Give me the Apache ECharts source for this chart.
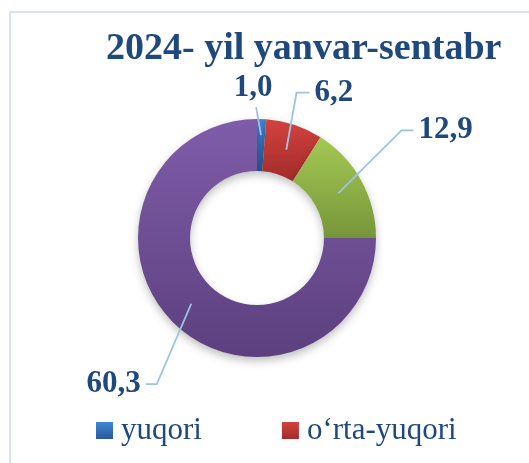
<!DOCTYPE html>
<html>
<head>
<meta charset="utf-8">
<script src="https://cdn.jsdelivr.net/npm/echarts@6/dist/echarts.min.js"></script>
<style>
  html, body { margin: 0; padding: 0; background: #fff; }
  #chart_view { width: 529px; height: 463px; }
</style>
</head>
<body>
<div id="chart_view"></div>
<script>
// data
var categories = ['yuqori', 'o\u2018rta-yuqori', 'o\u2018rta-quyi', 'quyi'];
var values = [1.0, 6.2, 12.9, 60.3];
var legendItems = ['yuqori', 'o\u2018rta-yuqori'];

var titleText = '2024- yil yanvar-sentabr';
var darkBlue = '#1F497D';

// slice colours, top -> bottom of each gradient
var colorsTop = ['#3F86D6', '#D2423F', '#A4C853', '#7F5CA9'];
var colorsBottom = ['#2A5A98', '#A22C2A', '#76963A', '#5C407E'];

// label line tuning per slice
var lineLen = [12, 32, 46, 51];
var lineLen2 = [0, 13, 12, 11];
var lineInset = [16, 26, 26, 26];
var labelShift = [[-6, 0], [-8, -2], [0, -28], [20, 26]];

function grad(i) {
    return new echarts.graphic.LinearGradient(0, 0, 0, 1, [
        { offset: 0, color: colorsTop[i] },
        { offset: 1, color: colorsBottom[i] }
    ]);
}

var ringData = categories.map(function (name, i) {
    return { name: name, value: values[i], itemStyle: { color: grad(i) } };
});

// same slices again, invisible, only to carry labels above the ring
var labelData = categories.map(function (name, i) {
    return {
        name: name,
        value: values[i],
        labelLine: { length: lineLen[i], length2: lineLen2[i] }
    };
});

var myChart = echarts.init(document.getElementById('chart_view'));

var pieBase = {
    type: 'pie',
    center: [257, 238],
    radius: [67, 119],
    startAngle: 90,
    clockwise: true,
    avoidLabelOverlap: false
};

var option = {
    animation: false,
    graphic: [{
        type: 'rect',
        shape: { x: 10, y: 12, width: 600, height: 600 },
        style: { fill: 'none', stroke: '#D7E3F3', lineWidth: 2 },
        z: -1
    }],
    title: {
        text: titleText,
        left: 106,
        top: 30,
        padding: 0,
        textStyle: {
            fontFamily: 'Liberation Serif',
            fontWeight: 'bold',
            fontSize: 38,
            color: darkBlue
        }
    },
    legend: {
        data: legendItems,
        left: 96,
        top: 415,
        padding: 0,
        icon: 'rect',
        itemWidth: 17,
        itemHeight: 17,
        itemGap: 80,
        textStyle: {
            fontFamily: 'Liberation Serif',
            fontSize: 31,
            color: darkBlue,
            padding: [0, 0, 0, 3]
        }
    },
    series: [
        Object.assign({}, pieBase, {
            name: 'ring',
            z: 2,
            data: ringData,
            label: { show: false },
            labelLine: { show: false },
            itemStyle: {
                shadowBlur: 8,
                shadowOffsetY: 4,
                shadowColor: 'rgba(0,0,0,0.25)'
            }
        }),
        Object.assign({}, pieBase, {
            name: 'labels',
            z: 5,
            silent: true,
            data: labelData,
            itemStyle: { color: 'rgba(0,0,0,0)' },
            label: {
                show: true,
                position: 'outside',
                formatter: function (p) { return p.value.toFixed(1).replace('.', ','); },
                fontFamily: 'Liberation Serif',
                fontWeight: 'bold',
                fontSize: 31,
                color: darkBlue,
                distanceToLabelLine: 5
            },
            labelLine: {
                show: true,
                lineStyle: { color: '#9DC3E6', width: 1.8 }
            },
            labelLayout: function (params) {
                var pts = params.labelLinePoints;
                if (!pts) return;
                var i = params.dataIndex;
                var p0 = pts[0], p1 = pts[1], p2 = pts[2];
                var dx = p1[0] - p0[0], dy = p1[1] - p0[1];
                var d = Math.sqrt(dx * dx + dy * dy) || 1;
                var s = [p0[0] - dx / d * lineInset[i], p0[1] - dy / d * lineInset[i]];
                var sx = labelShift[i][0], sy = labelShift[i][1];
                var q1 = [p1[0] + sx, p1[1] + sy];
                var q2 = [p2[0] + sx, p2[1] + sy];
                if (i === 0) {
                    return {
                        x: q1[0] - 3,
                        y: q1[1] - 4,
                        align: 'center',
                        verticalAlign: 'bottom',
                        labelLinePoints: [s, q1, q1]
                    };
                }
                return {
                    dx: sx,
                    dy: sy,
                    labelLinePoints: [s, q1, q2]
                };
            }
        })
    ]
};

myChart.setOption(option);
</script>
</body>
</html>
